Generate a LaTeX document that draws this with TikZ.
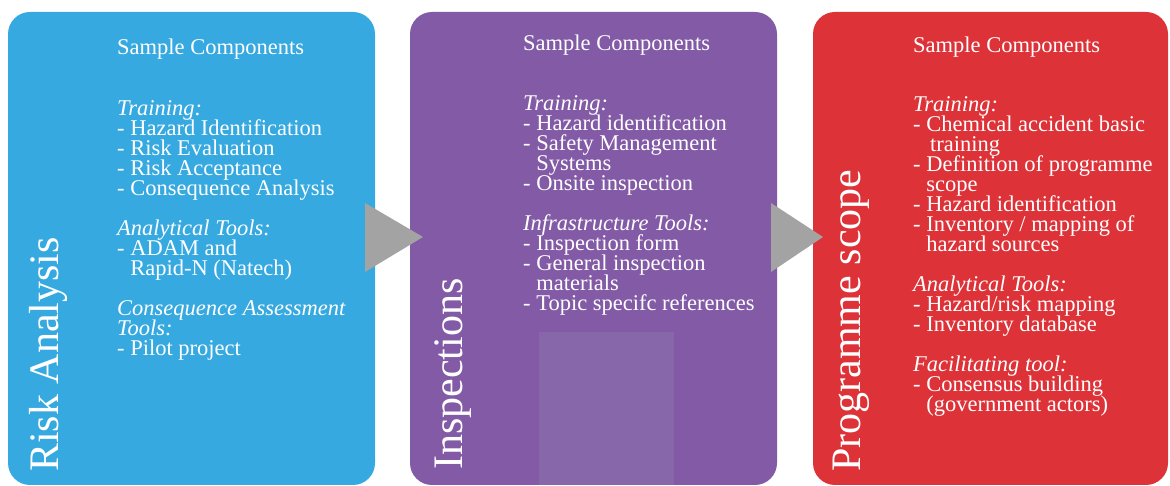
\documentclass[tikz,border=0pt]{standalone}
\usepackage{fontspec}
\setmainfont{Liberation Serif}
\definecolor{rablue}{HTML}{36A9E0}
\definecolor{inpurple}{HTML}{825AA5}
\definecolor{inlight}{HTML}{8766AA}
\definecolor{psred}{HTML}{DC3238}
\definecolor{arrgray}{HTML}{A3A3A3}
\newcommand{\tightlines}{\lineskiplimit=-30pt\relax\lineskip=0pt\relax}
\begin{document}
\begin{tikzpicture}[x=1pt,y=1pt,
  panel/.style={rounded corners=22pt, draw=none},
  chev/.style={fill=arrgray, draw=none},
  titletext/.style={text=white, rotate=90, anchor=base west, inner sep=0pt, font=\fontsize{42}{44}\selectfont},
  body/.style={text=white, anchor=north west, inner sep=0pt, align=left,
    font=\fontsize{22.5}{20}\selectfont\tightlines}]
\useasboundingbox (0,0) rectangle (1170,486);
% panels
\fill[rablue, panel] (8,1) rectangle (375,474);
\fill[inpurple, panel] (410,1) rectangle (777,474);
\fill[inlight] (539,1) rectangle (674,154);
\fill[psred, panel] (813,1) rectangle (1168,474);
% chevrons
\coordinate (c1a) at (365,283);
\coordinate (c1b) at (365,214);
\coordinate (c1t) at (423,249);
\coordinate (c2a) at (771,283);
\coordinate (c2b) at (771,214);
\coordinate (c2t) at (823,249);
\fill[chev] (c1a) -- (c1t) -- (c1b) -- cycle;
\fill[chev] (c2a) -- (c2t) -- (c2b) -- cycle;
% titles
\node[titletext] (ratitle) at (58,14) {Risk Analysis};
\node[titletext] (intitle) at (462,16) {Inspections};
\node[titletext] (pstitle) at (860,14) {Programme scope};
% bodies
\node[body] (ratext) at (117,448) {\rule{0pt}{16pt}Sample Components\\[41pt]
\textit{Training:}\\
- Hazard Identification\\
- Risk Evaluation\\
- Risk Acceptance\\
- Consequence Analysis\\[20pt]
\textit{Analytical Tools:}\\
- ADAM and\\
\phantom{- }Rapid-N (Natech)\\[20pt]
\textit{Consequence Assessment}\\
\textit{Tools:}\\
- Pilot project};
\node[body] (intext) at (523,452) {\rule{0pt}{16pt}Sample Components\\[40pt]
\textit{Training:}\\
- Hazard identification\\
- Safety Management\\
\phantom{- }Systems\\
- Onsite inspection\\[20pt]
\textit{Infrastructure Tools:}\\
- Inspection form\\
- General inspection\\
\phantom{- }materials\\
- Topic specifc references};
\node[body] (pstext) at (913,450) {\rule{0pt}{16pt}Sample Components\\[39pt]
\textit{Training:}\\
- Chemical accident basic\\
\phantom{- }\,training\\
- Definition of programme\\
\phantom{- }scope\\
- Hazard identification\\
- Inventory / mapping of\\
\phantom{- }hazard sources\\[20pt]
\textit{Analytical Tools:}\\
- Hazard/risk mapping\\
- Inventory database\\[20pt]
\textit{Facilitating tool:}\\
- Consensus building\\
\phantom{- }(government actors)};
\end{tikzpicture}
\end{document}
